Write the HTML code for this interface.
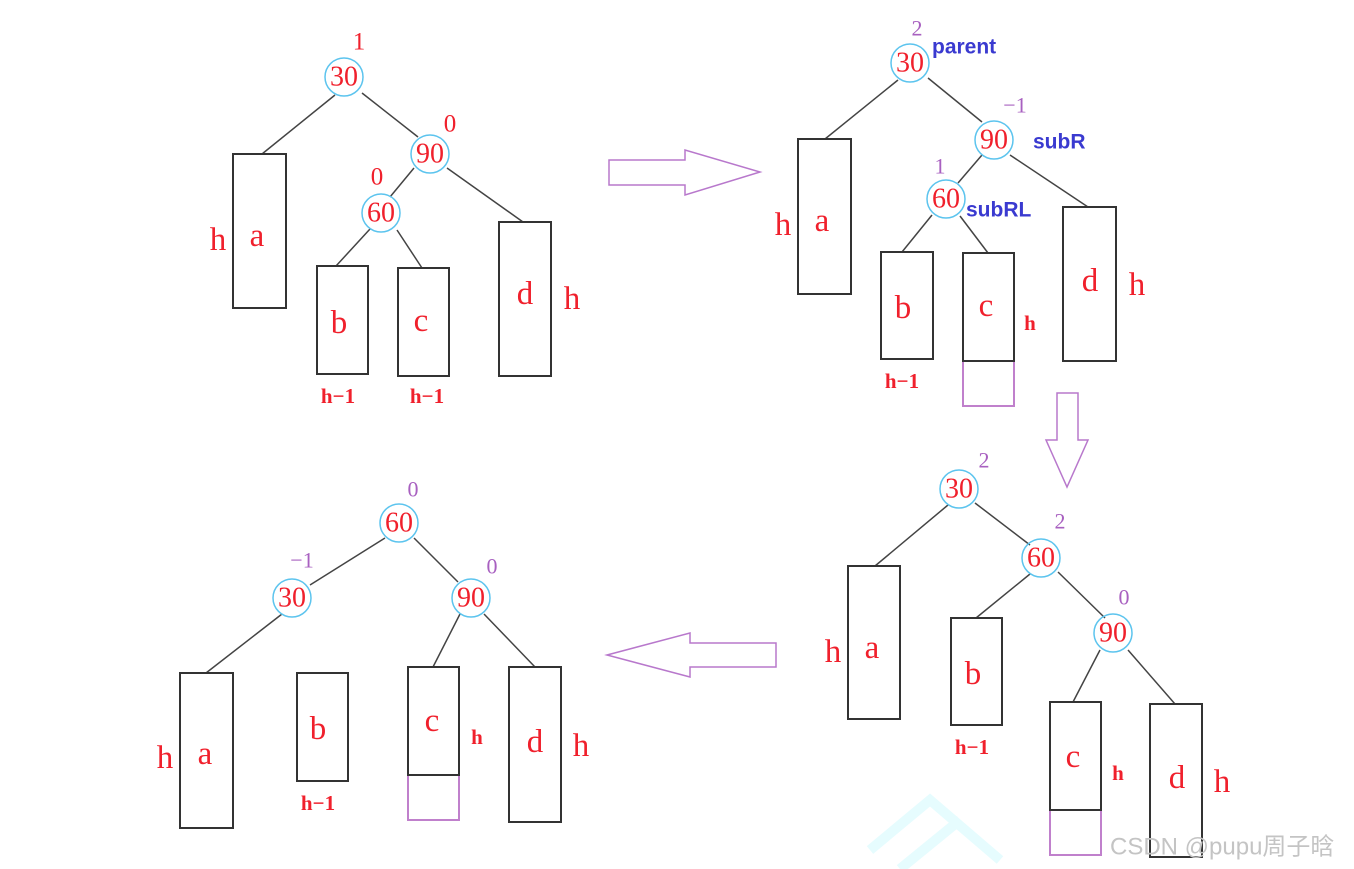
<!DOCTYPE html>
<html><head><meta charset="utf-8"><style>
html,body{margin:0;padding:0;background:#fff;}
svg{display:block}
.n{font-family:"Liberation Serif",serif;fill:#f0202c;font-size:28px;text-anchor:middle;dominant-baseline:central}
.l{font-family:"Liberation Serif",serif;fill:#f0202c;font-size:33px;text-anchor:middle;dominant-baseline:central}
.s{font-family:"Liberation Serif",serif;fill:#f0202c;font-size:21px;font-weight:bold;text-anchor:middle;dominant-baseline:central}
.bf{font-family:"Liberation Serif",serif;fill:#f0202c;font-size:25px;text-anchor:middle;dominant-baseline:central}
.p{font-family:"Liberation Serif",serif;fill:#a860c0;font-size:22px;text-anchor:middle;dominant-baseline:central}
.b{font-family:"Liberation Sans",sans-serif;fill:#3a3ad0;font-size:21px;font-weight:bold;dominant-baseline:central}
circle{fill:none;stroke:#5cc4ee;stroke-width:1.5}
line{stroke:#444;stroke-width:1.5}
rect.k{fill:none;stroke:#333;stroke-width:2}
rect.q{fill:none;stroke:#c080cc;stroke-width:2}
polygon{fill:none;stroke:#b878cc;stroke-width:1.5}
</style></head><body>
<svg width="1354" height="869" viewBox="0 0 1354 869">
<!-- TL -->
<line x1="335" y1="95" x2="262" y2="154"/><line x1="362" y1="93" x2="418" y2="137"/>
<line x1="414" y1="168" x2="390" y2="197"/><line x1="447" y1="168" x2="523" y2="222"/>
<line x1="370" y1="229" x2="336" y2="266"/><line x1="397" y1="230" x2="422" y2="268"/>
<rect class="k" x="233" y="154" width="53" height="154"/>
<rect class="k" x="317" y="266" width="51" height="108"/>
<rect class="k" x="398" y="268" width="51" height="108"/>
<rect class="k" x="499" y="222" width="52" height="154"/>
<circle cx="344" cy="77" r="19"/><circle cx="430" cy="154" r="19"/><circle cx="381" cy="213" r="19"/>
<text class="n" x="344" y="77">30</text><text class="n" x="430" y="154">90</text><text class="n" x="381" y="213">60</text>
<text class="bf" x="359" y="42">1</text><text class="bf" x="450" y="124">0</text><text class="bf" x="377" y="177">0</text>
<text class="l" x="257" y="236">a</text><text class="l" x="218" y="240">h</text>
<text class="l" x="339" y="323">b</text><text class="l" x="421" y="321">c</text>
<text class="l" x="525" y="294">d</text><text class="l" x="572" y="299">h</text>
<text class="s" x="338" y="396">h−1</text><text class="s" x="427" y="396">h−1</text>
<!-- right arrow -->
<polygon points="609,160 685,160 685,150 760,172 685,195 685,185 609,185"/>
<!-- TR -->
<line x1="898" y1="80" x2="825" y2="139"/><line x1="928" y1="78" x2="982" y2="122"/>
<line x1="982" y1="155" x2="958" y2="183"/><line x1="1010" y1="155" x2="1088" y2="207"/>
<line x1="932" y1="215" x2="902" y2="252"/><line x1="960" y1="216" x2="988" y2="253"/>
<rect class="k" x="798" y="139" width="53" height="155"/>
<rect class="k" x="881" y="252" width="52" height="107"/>
<rect class="q" x="963" y="361" width="51" height="45"/>
<rect class="k" x="963" y="253" width="51" height="108"/>
<rect class="k" x="1063" y="207" width="53" height="154"/>
<circle cx="910" cy="63" r="19"/><circle cx="994" cy="140" r="19"/><circle cx="946" cy="199" r="19"/>
<text class="n" x="910" y="63">30</text><text class="n" x="994" y="140">90</text><text class="n" x="946" y="199">60</text>
<text class="p" x="917" y="28">2</text><text class="p" x="1015" y="105">−1</text><text class="p" x="940" y="166">1</text>
<text class="b" x="932" y="47">parent</text><text class="b" x="1033" y="142">subR</text><text class="b" x="966" y="210">subRL</text>
<text class="l" x="822" y="221">a</text><text class="l" x="783" y="225">h</text>
<text class="l" x="903" y="308">b</text><text class="l" x="986" y="306">c</text>
<text class="l" x="1090" y="281">d</text><text class="l" x="1137" y="285">h</text>
<text class="s" x="1030" y="323">h</text><text class="s" x="902" y="381">h−1</text>
<!-- down arrow -->
<polygon points="1057,393 1078,393 1078,440 1088,440 1067,487 1046,440 1057,440"/>
<!-- BR -->
<line x1="948" y1="505" x2="875" y2="566"/><line x1="975" y1="503" x2="1030" y2="545"/>
<line x1="1030" y1="574" x2="976" y2="618"/><line x1="1058" y1="572" x2="1105" y2="618"/>
<line x1="1100" y1="650" x2="1073" y2="702"/><line x1="1128" y1="650" x2="1175" y2="704"/>
<rect class="k" x="848" y="566" width="52" height="153"/>
<rect class="k" x="951" y="618" width="51" height="107"/>
<rect class="q" x="1050" y="810" width="51" height="45"/>
<rect class="k" x="1050" y="702" width="51" height="108"/>
<rect class="k" x="1150" y="704" width="52" height="153"/>
<circle cx="959" cy="489" r="19"/><circle cx="1041" cy="558" r="19"/><circle cx="1113" cy="633" r="19"/>
<text class="n" x="959" y="489">30</text><text class="n" x="1041" y="558">60</text><text class="n" x="1113" y="633">90</text>
<text class="p" x="984" y="460">2</text><text class="p" x="1060" y="521">2</text><text class="p" x="1124" y="597">0</text>
<text class="l" x="872" y="648">a</text><text class="l" x="833" y="652">h</text>
<text class="l" x="973" y="674">b</text><text class="l" x="1073" y="757">c</text>
<text class="l" x="1177" y="778">d</text><text class="l" x="1222" y="782">h</text>
<text class="s" x="1118" y="773">h</text><text class="s" x="972" y="747">h−1</text>
<!-- left arrow -->
<polygon points="607,655 690,633 690,643 776,643 776,667 690,667 690,677"/>
<!-- BL -->
<line x1="385" y1="538" x2="310" y2="585"/><line x1="414" y1="538" x2="458" y2="582"/>
<line x1="282" y1="614" x2="206" y2="673"/>
<line x1="460" y1="614" x2="433" y2="667"/><line x1="484" y1="614" x2="535" y2="667"/>
<rect class="k" x="180" y="673" width="53" height="155"/>
<rect class="k" x="297" y="673" width="51" height="108"/>
<rect class="q" x="408" y="775" width="51" height="45"/>
<rect class="k" x="408" y="667" width="51" height="108"/>
<rect class="k" x="509" y="667" width="52" height="155"/>
<circle cx="399" cy="523" r="19"/><circle cx="292" cy="598" r="19"/><circle cx="471" cy="598" r="19"/>
<text class="n" x="399" y="523">60</text><text class="n" x="292" y="598">30</text><text class="n" x="471" y="598">90</text>
<text class="p" x="413" y="489">0</text><text class="p" x="302" y="560">−1</text><text class="p" x="492" y="566">0</text>
<text class="l" x="205" y="754">a</text><text class="l" x="165" y="758">h</text>
<text class="l" x="318" y="729">b</text><text class="l" x="432" y="721">c</text>
<text class="l" x="535" y="742">d</text><text class="l" x="581" y="746">h</text>
<text class="s" x="477" y="737">h</text><text class="s" x="318" y="803">h−1</text>
<!-- watermark -->
<g stroke="#e6fcfe" stroke-width="10" fill="none">
<polyline points="870,850 930,800 1000,860"/><polyline points="900,869 960,820"/>
</g>
<text x="1110" y="847" font-family="Liberation Sans,'Noto Sans CJK SC',sans-serif" font-size="24" fill="#c4c4c4" dominant-baseline="central">CSDN @pupu周子晗</text>
</svg>
</body></html>
